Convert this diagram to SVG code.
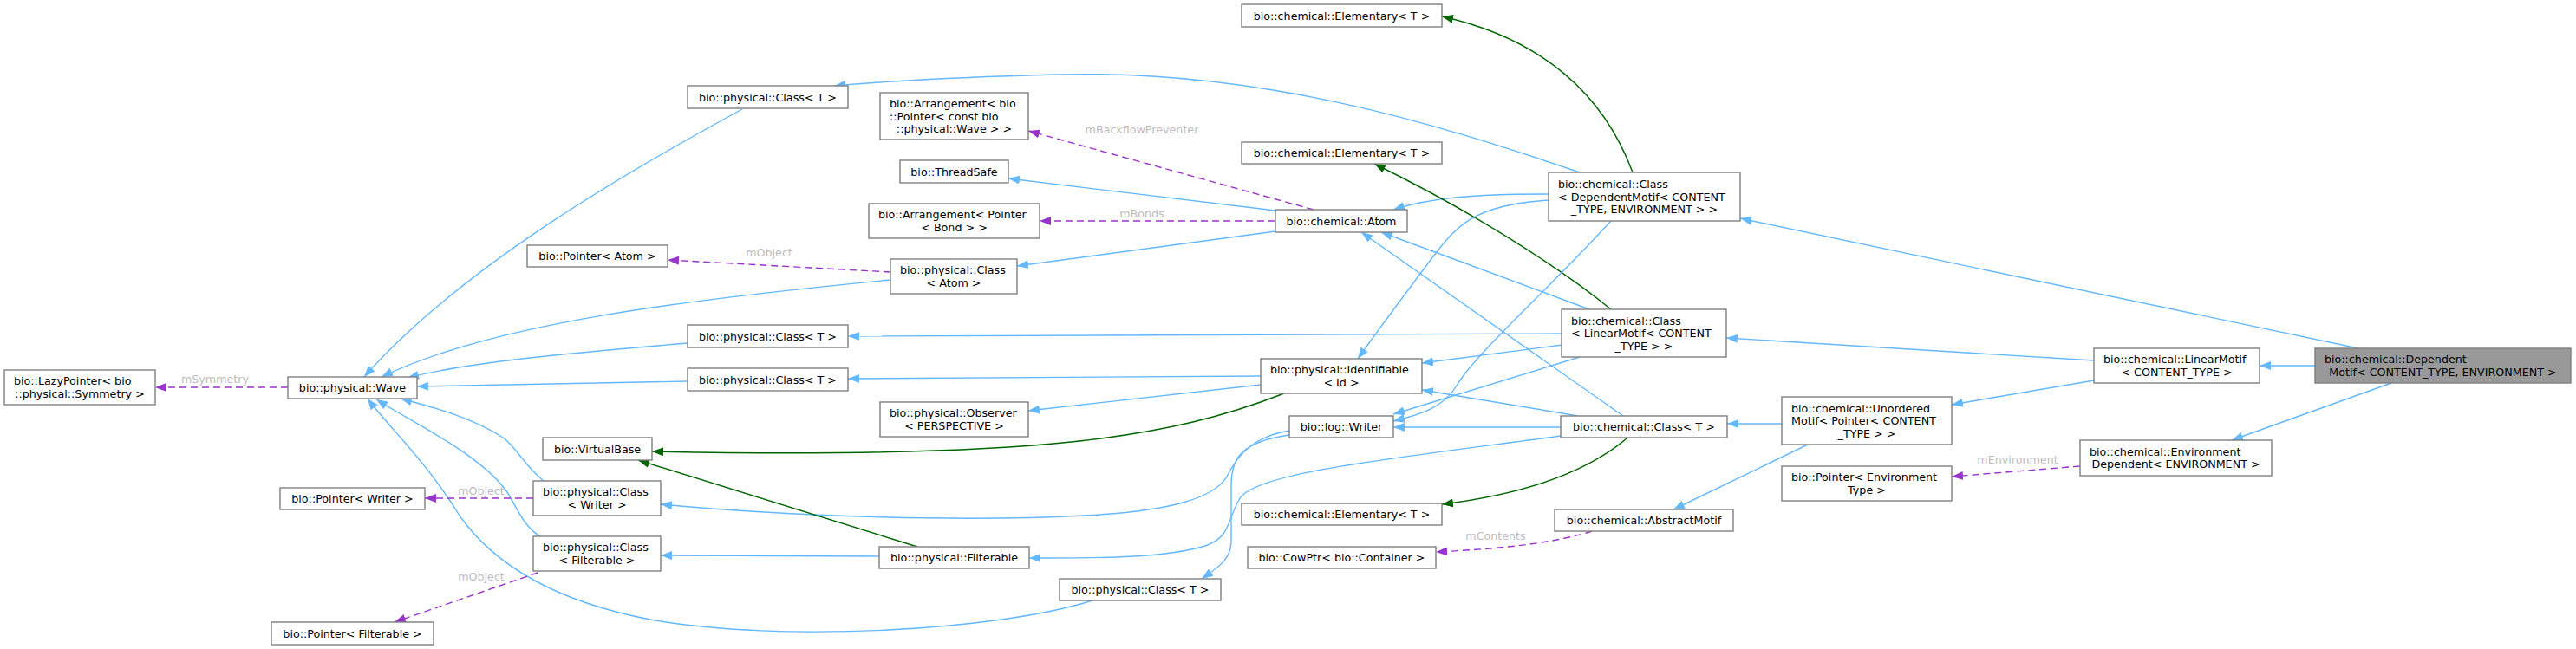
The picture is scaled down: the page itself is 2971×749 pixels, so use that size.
<svg xmlns="http://www.w3.org/2000/svg" width="2971" height="749" viewBox="0 0 2971 749">
<style>
.n rect{fill:#fff;stroke:#7f7f7f;stroke-width:1.4}
.n text,.lbl{font-family:"DejaVu Sans","Liberation Sans",sans-serif;font-size:12.7px;fill:#000}
.c{text-anchor:middle}
.lbl{fill:#bdbdbd;text-anchor:middle}
.e{fill:none;stroke:#63b8ff;stroke-width:1.4;marker-end:url(#ab)}
.g{fill:none;stroke:#006400;stroke-width:1.4;marker-end:url(#ag)}
.u{fill:none;stroke:#9a32cd;stroke-width:1.4;stroke-dasharray:8,5;marker-end:url(#ap)}
</style>
<defs>
<marker id="ab" viewBox="0 0 13 10" refX="13" refY="5" markerWidth="13" markerHeight="10" markerUnits="userSpaceOnUse" orient="auto"><path d="M0,0 L13,5 L0,10 z" fill="#63b8ff"/></marker>
<marker id="ag" viewBox="0 0 13 10" refX="13" refY="5" markerWidth="13" markerHeight="10" markerUnits="userSpaceOnUse" orient="auto"><path d="M0,0 L13,5 L0,10 z" fill="#006400"/></marker>
<marker id="ap" viewBox="0 0 13 10" refX="13" refY="5" markerWidth="13" markerHeight="10" markerUnits="userSpaceOnUse" orient="auto"><path d="M0,0 L13,5 L0,10 z" fill="#9a32cd"/></marker>
</defs>
<rect x="0" y="0" width="2971" height="749" fill="#fff"/>
<g id="edges">
<path class="e" d="M856,126 C720,200 530,310 420,435"/>
<path class="e" d="M1027,323 C800,345 570,372 440,435"/>
<path class="e" d="M793,396 C650,408 540,418 470,436"/>
<path class="e" d="M793,440 L481,446"/>
<path class="e" d="M627,555 C605,538 595,515 580,505 C545,482 500,470 462,460"/>
<path class="e" d="M624,620 C602,606 596,585 585,568 C555,525 480,490 434,461"/>
<path class="e" d="M1260,693 C1150,728 900,742 750,715 C630,692 565,645 530,595 C490,530 450,495 424,460"/>
<path class="e" d="M1471,243 L1163,206"/>
<path class="e" d="M1471,267 L1173,307"/>
<path class="e" d="M1786,224 C1700,224 1650,228 1607,242"/>
<path class="e" d="M1833,357 L1593,268"/>
<path class="e" d="M1872,480 L1570,268"/>
<path class="e" d="M1787,231 C1700,236 1680,260 1650,300 C1620,340 1590,380 1566,414"/>
<path class="e" d="M1802,398 L1640,419"/>
<path class="e" d="M1820,480 L1640,450"/>
<path class="e" d="M1454,434 L978,437"/>
<path class="e" d="M1454,444 L1186,474"/>
<path class="g" d="M1481,454 C1350,505 1200,530 752,521"/>
<path class="e" d="M1801,385 L978,388"/>
<path class="e" d="M1822,412 L1607,478"/>
<path class="e" d="M2415,416 L1991,390"/>
<path class="g" d="M1858,357 C1800,310 1700,245 1585,189"/>
<path class="e" d="M1822,199 C1650,140 1450,80 1220,86 C1100,89 1020,94 962,99"/>
<path class="g" d="M1883,199 C1850,110 1780,45 1663,19"/>
<path class="e" d="M1858,255 C1780,340 1700,410 1680,445 C1665,470 1640,478 1607,486"/>
<path class="e" d="M2720,402 L2007,252"/>
<path class="e" d="M1800,493 L1607,493"/>
<path class="e" d="M1800,503 C1600,530 1450,545 1430,575 C1415,600 1420,620 1390,630 C1340,645 1260,644 1187,644"/>
<path class="g" d="M1876,506 C1830,545 1760,570 1663,582"/>
<path class="e" d="M2055,489 L1992,489"/>
<path class="e" d="M2085,513 L1930,588"/>
<path class="e" d="M2415,439 L2251,467"/>
<path class="e" d="M2670,422 L2606,422"/>
<path class="e" d="M2758,442 L2574,508"/>
<path class="e" d="M1487,497 C1440,505 1425,530 1415,550 C1400,575 1350,590 1250,595 C1100,603 900,595 762,582"/>
<path class="e" d="M1487,502 C1430,510 1420,530 1420,560 L1420,625 C1420,645 1405,655 1386,668"/>
<path class="e" d="M1014,642 L762,641"/>
<path class="g" d="M1058,631 L736,531"/>
<path class="u" d="M332,447 L179,447"/>
<path class="u" d="M1027,314 L770,300"/>
<path class="u" d="M615,575 L490,575"/>
<path class="u" d="M620,661 L455,718"/>
<path class="u" d="M1515,242 L1186,151"/>
<path class="u" d="M1471,255 L1199,255"/>
<path class="u" d="M1836,613 C1790,628 1720,634 1656,637"/>
<path class="u" d="M2399,538 L2251,550"/>
<text class="lbl" x="248" y="442">mSymmetry</text>
<text class="lbl" x="887" y="296">mObject</text>
<text class="lbl" x="555" y="571">mObject</text>
<text class="lbl" x="555" y="670">mObject</text>
<text class="lbl" x="1317" y="154">mBackflowPreventer</text>
<text class="lbl" x="1317" y="251">mBonds</text>
<text class="lbl" x="1725" y="623">mContents</text>
<text class="lbl" x="2327" y="535">mEnvironment</text>
</g>
<g id="n-lazypointer" class="n"><rect x="5" y="427" width="174" height="40"/><text x="16" y="444">bio::LazyPointer&lt; bio</text><text class="c" x="92" y="458.5">::physical::Symmetry &gt;</text></g>
<g id="n-wave" class="n"><rect x="332" y="435" width="149" height="25"/><text class="c" x="406.5" y="452">bio::physical::Wave</text></g>
<g id="n-pointer-atom" class="n"><rect x="608" y="283" width="162" height="25"/><text class="c" x="689" y="300">bio::Pointer&lt; Atom &gt;</text></g>
<g id="n-class-t1" class="n"><rect x="793" y="99" width="185" height="26"/><text class="c" x="885.5" y="116.5">bio::physical::Class&lt; T &gt;</text></g>
<g id="n-arr-wave" class="n"><rect x="1015" y="107" width="171" height="54"/><text x="1026" y="124">bio::Arrangement&lt; bio</text><text x="1026" y="138.5">::Pointer&lt; const bio</text><text class="c" x="1100.5" y="153">::physical::Wave &gt; &gt;</text></g>
<g id="n-threadsafe" class="n"><rect x="1038" y="185" width="125" height="26"/><text class="c" x="1100.5" y="202.5">bio::ThreadSafe</text></g>
<g id="n-arr-bond" class="n"><rect x="1002" y="235" width="197" height="40"/><text x="1013" y="252">bio::Arrangement&lt; Pointer</text><text class="c" x="1100.5" y="266.5">&lt; Bond &gt; &gt;</text></g>
<g id="n-class-atom" class="n"><rect x="1027" y="299" width="146" height="40"/><text x="1038" y="316">bio::physical::Class</text><text class="c" x="1100" y="330.5">&lt; Atom &gt;</text></g>
<g id="n-class-t3" class="n"><rect x="793" y="375" width="185" height="26"/><text class="c" x="885.5" y="392.5">bio::physical::Class&lt; T &gt;</text></g>
<g id="n-class-t4" class="n"><rect x="793" y="425" width="185" height="26"/><text class="c" x="885.5" y="442.5">bio::physical::Class&lt; T &gt;</text></g>
<g id="n-observer" class="n"><rect x="1015" y="464" width="171" height="40"/><text x="1026" y="481">bio::physical::Observer</text><text class="c" x="1100.5" y="495.5">&lt; PERSPECTIVE &gt;</text></g>
<g id="n-virtualbase" class="n"><rect x="626" y="505" width="126" height="26"/><text class="c" x="689" y="522.5">bio::VirtualBase</text></g>
<g id="n-pointer-writer" class="n"><rect x="323" y="563" width="167" height="25"/><text class="c" x="406.5" y="580">bio::Pointer&lt; Writer &gt;</text></g>
<g id="n-class-writer" class="n"><rect x="615" y="555" width="147" height="40"/><text x="626" y="572">bio::physical::Class</text><text class="c" x="688.5" y="586.5">&lt; Writer &gt;</text></g>
<g id="n-class-filterable" class="n"><rect x="615" y="619" width="147" height="40"/><text x="626" y="636">bio::physical::Class</text><text class="c" x="688.5" y="650.5">&lt; Filterable &gt;</text></g>
<g id="n-pointer-filterable" class="n"><rect x="313" y="718" width="187" height="26"/><text class="c" x="406.5" y="735.5">bio::Pointer&lt; Filterable &gt;</text></g>
<g id="n-filterable" class="n"><rect x="1014" y="631" width="173" height="25"/><text class="c" x="1100.5" y="648">bio::physical::Filterable</text></g>
<g id="n-class-t5" class="n"><rect x="1222" y="668" width="186" height="25"/><text class="c" x="1315" y="685">bio::physical::Class&lt; T &gt;</text></g>
<g id="n-elementary1" class="n"><rect x="1432" y="5" width="231" height="26"/><text class="c" x="1547.5" y="22.5">bio::chemical::Elementary&lt; T &gt;</text></g>
<g id="n-elementary2" class="n"><rect x="1432" y="164" width="231" height="25"/><text class="c" x="1547.5" y="181">bio::chemical::Elementary&lt; T &gt;</text></g>
<g id="n-atom" class="n"><rect x="1471" y="242" width="152" height="26"/><text class="c" x="1547" y="259.5">bio::chemical::Atom</text></g>
<g id="n-identifiable" class="n"><rect x="1454" y="414" width="186" height="40"/><text x="1465" y="431">bio::physical::Identifiable</text><text class="c" x="1547" y="445.5">&lt; Id &gt;</text></g>
<g id="n-writer" class="n"><rect x="1487" y="480" width="120" height="25"/><text class="c" x="1547" y="497">bio::log::Writer</text></g>
<g id="n-elementary3" class="n"><rect x="1432" y="581" width="231" height="25"/><text class="c" x="1547.5" y="598">bio::chemical::Elementary&lt; T &gt;</text></g>
<g id="n-cowptr" class="n"><rect x="1439" y="631" width="217" height="25"/><text class="c" x="1547.5" y="648">bio::CowPtr&lt; bio::Container &gt;</text></g>
<g id="n-class-depmotif" class="n"><rect x="1786" y="199" width="221" height="56"/><text x="1797" y="217">bio::chemical::Class</text><text x="1797" y="231.5">&lt; DependentMotif&lt; CONTENT</text><text class="c" x="1896.5" y="246">_TYPE, ENVIRONMENT &gt; &gt;</text></g>
<g id="n-class-linearmotif" class="n"><rect x="1801" y="357" width="190" height="55"/><text x="1812" y="374.5">bio::chemical::Class</text><text x="1812" y="389">&lt; LinearMotif&lt; CONTENT</text><text class="c" x="1896" y="403.5">_TYPE &gt; &gt;</text></g>
<g id="n-chem-class-t" class="n"><rect x="1800" y="480" width="192" height="25"/><text class="c" x="1896" y="497">bio::chemical::Class&lt; T &gt;</text></g>
<g id="n-abstractmotif" class="n"><rect x="1793" y="588" width="206" height="25"/><text class="c" x="1896" y="605">bio::chemical::AbstractMotif</text></g>
<g id="n-unordered" class="n"><rect x="2055" y="458" width="196" height="55"/><text x="2066" y="475.5">bio::chemical::Unordered</text><text x="2066" y="490">Motif&lt; Pointer&lt; CONTENT</text><text class="c" x="2153" y="504.5">_TYPE &gt; &gt;</text></g>
<g id="n-pointer-env" class="n"><rect x="2055" y="538" width="196" height="40"/><text x="2066" y="555">bio::Pointer&lt; Environment</text><text class="c" x="2153" y="569.5">Type &gt;</text></g>
<g id="n-linearmotif" class="n"><rect x="2415" y="402" width="191" height="40"/><text x="2426" y="419">bio::chemical::LinearMotif</text><text class="c" x="2510.5" y="433.5">&lt; CONTENT_TYPE &gt;</text></g>
<g id="n-envdep" class="n"><rect x="2399" y="508" width="221" height="41"/><text x="2410" y="525.5">bio::chemical::Environment</text><text class="c" x="2509.5" y="540">Dependent&lt; ENVIRONMENT &gt;</text></g>
<g id="n-dependentmotif" class="n"><rect x="2670" y="402" width="295" height="40" style="fill:#999"/><text x="2681" y="419">bio::chemical::Dependent</text><text class="c" x="2817.5" y="433.5">Motif&lt; CONTENT_TYPE, ENVIRONMENT &gt;</text></g>
</svg>
